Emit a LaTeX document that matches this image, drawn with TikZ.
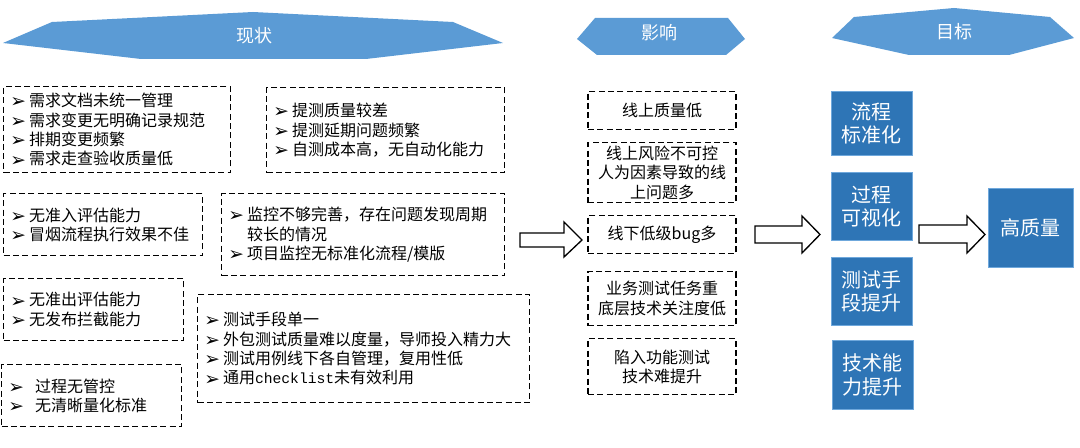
\documentclass[tikz,border=0pt]{standalone}
\usepackage{fontspec}
\setmainfont{Noto Sans CJK SC}
\newfontfamily\symfont{DejaVu Sans}
\newfontfamily\codefont{Liberation Mono}
\definecolor{headblue}{HTML}{5B9BD5}
\definecolor{goalblue}{HTML}{2E75B6}
\definecolor{goaledge}{HTML}{6FA8DC}
\newcommand\bul{\makebox[14pt][l]{\smash{\raisebox{-1pt}{\symfont\fontsize{14}{14}\selectfont ➢}}}}
\newcommand\wbul{\makebox[20pt][l]{\smash{\raisebox{-1pt}{\symfont\fontsize{14}{14}\selectfont ➢}}}}
\newcommand\txtsize{\fontsize{12}{14.6}\selectfont}

\begin{document}
\begin{tikzpicture}[x=0.75pt,y=-0.75pt,
  issue/.style={draw,dash pattern=on 4.5pt off 2.5pt,line width=1pt,anchor=north west,align=left,inner xsep=5pt,inner ysep=0pt,font=\txtsize},
  effect/.style={draw,dash pattern=on 4.5pt off 2.5pt,line width=1pt,anchor=north,align=center,minimum width=111pt,text width=105pt,inner xsep=3pt,inner ysep=0pt,font=\txtsize},
  goal/.style={fill=goalblue,draw=goaledge,line width=.6pt,text=white,anchor=north west,align=center,minimum width=60.75pt,inner sep=0pt,font=\fontsize{15}{17.5}\selectfont},
  header/.style={fill=headblue,draw=none},
  headtext/.style={text=white,font=\fontsize{13.5}{14}\selectfont},
  bigarrow/.style={draw,line width=1pt,fill=white,line join=miter}]
  \useasboundingbox (0,0) rectangle (1080,448);

  % headers
  \fill[header] (3,43) -- (52,22) -- (253,12) -- (453,22) -- (503,43) -- (366,59) -- (141,59) -- cycle;
  \fill[header] (577,39) -- (595,18) -- (728,18) -- (745,39) -- (726,55) -- (597,55) -- cycle;
  \fill[header] (832,38) -- (854,17) -- (954,8) -- (1050,17) -- (1074,38) -- (1009,55) -- (909,55) -- cycle;
  \node[headtext] (hd now) at (254,36) {现状};
  \node[headtext] (hd effect) at (659,33) {影响};
  \node[headtext] (hd goal) at (954,32) {目标};

  % current state
  \node[issue,text width=160.25pt,minimum height=64.5pt] (issue 1) at (3,86)
    {\bul 需求文档未统一管理\\\bul 需求变更无明确记录规范\\\bul 排期变更频繁\\\bul 需求走查验收质量低};
  \node[issue,text width=168.5pt,minimum height=63.75pt] (issue 2) at (266,87)
    {\bul 提测质量较差\\\bul 提测延期问题频繁\\\bul 自测成本高，无自动化能力};
  \node[issue,text width=139.25pt,minimum height=46.5pt] (issue 3) at (3,193)
    {\bul 无准入评估能力\\\bul 冒烟流程执行效果不佳};
  \node[issue,text width=202.25pt,minimum height=61.5pt] (issue 4) at (221,193)
    {\bul 监控不够完善，存在问题发现周期\\\hspace*{14pt}较长的情况\\\bul 项目监控无标准化流程/模版};
  \node[issue,text width=125pt,minimum height=46.5pt] (issue 5) at (3,278)
    {\bul 无准出评估能力\\\bul 无发布拦截能力};
  \node[issue,text width=239pt,minimum height=81pt] (issue 6) at (197,294)
    {\bul 测试手段单一\\\bul 外包测试质量难以度量，导师投入精力大\\\bul 测试用例线下各自管理，复用性低\\\bul 通用{\codefont\fontsize{11}{14.6}\selectfont checklist}未有效利用};
  \node[issue,text width=125pt,minimum height=46.5pt] (issue 7) at (1,364)
    {\wbul 过程无管控\\\wbul 无清晰量化标准};

  % effects
  \node[effect,minimum height=28.5pt] (effect 1) at (662,91) {线上质量低};
  \node[effect,minimum height=45pt] (effect 2) at (662,142) {线上风险不可控\\人为因素导致的线\\上问题多};
  \node[effect,minimum height=28.5pt] (effect 3) at (662,215) {线下低级bug多};
  \node[effect,minimum height=40.5pt] (effect 4) at (662,271) {业务测试任务重\\底层技术关注度低};
  \node[effect,minimum height=42pt] (effect 5) at (662,338) {陷入功能测试\\技术难提升};

  % goals
  \node[goal,minimum height=48pt] (goal 1) at (831,91) {流程\\标准化};
  \node[goal,minimum height=51pt] (goal 2) at (831,172) {过程\\可视化};
  \node[goal,minimum height=51pt] (goal 3) at (831,257) {测试手\\段提升};
  \node[goal,minimum height=51.75pt] (goal 4) at (832,340) {技术能\\力提升};
  \node[goal,minimum width=63.75pt,minimum height=59.25pt] (goal 5) at (988,188) {高质量};

  % block arrows
  \draw[bigarrow] (520,233) -- (564,233) -- (564,222) -- (582,240) -- (564,257) -- (564,247) -- (520,247) -- cycle;
  \draw[bigarrow] (755,226) -- (802,226) -- (802,216) -- (820,234.5) -- (802,253) -- (802,243) -- (755,243) -- cycle;
  \draw[bigarrow] (919,225) -- (967,225) -- (967,216) -- (985,234.5) -- (967,253) -- (967,243) -- (919,243) -- cycle;
\end{tikzpicture}
\end{document}
